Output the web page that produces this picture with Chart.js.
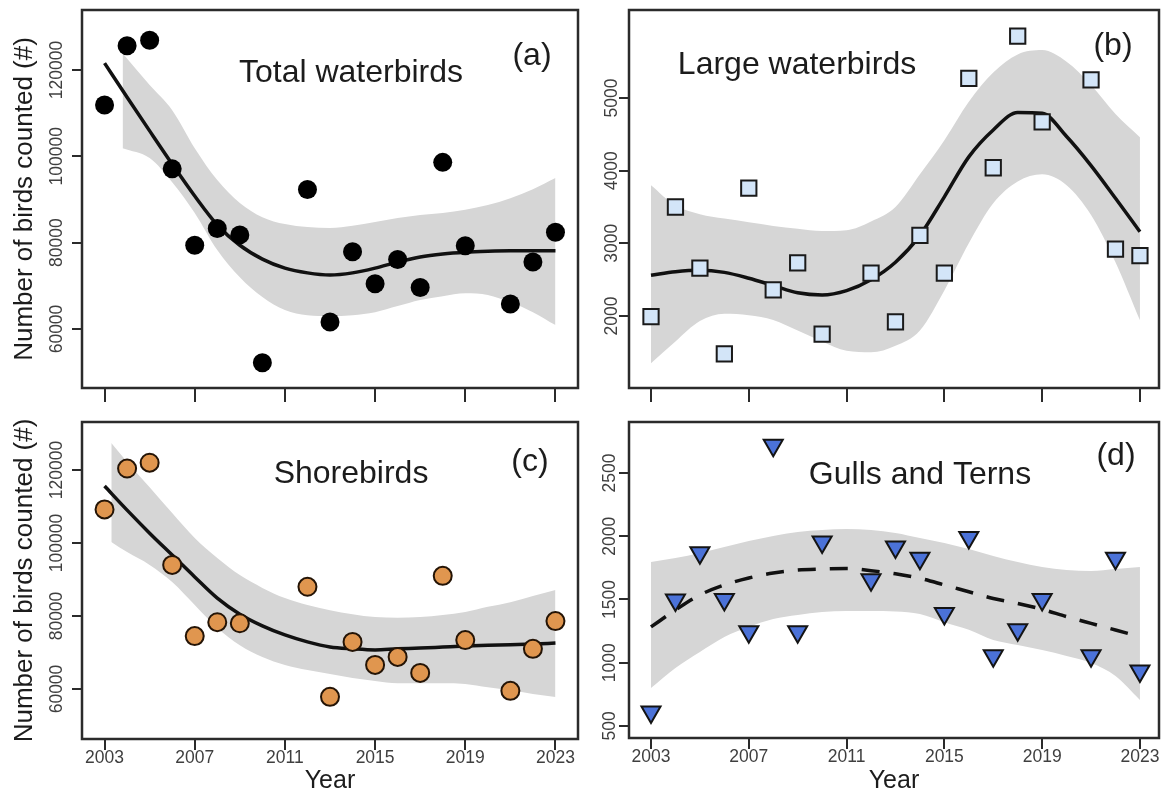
<!DOCTYPE html>
<html><head><meta charset="utf-8">
<script src="https://cdn.jsdelivr.net/npm/chart.js@4.4.1/dist/chart.umd.min.js"></script>
<style>
html,body{margin:0;padding:0;background:#fff;}
#wrap{position:relative;width:1162px;height:798px;overflow:hidden;background:#fff;}
canvas{position:absolute;left:0;top:0;}
</style></head><body>
<div id="wrap">
<canvas id="cA" width="1162" height="798"></canvas>
<canvas id="cB" width="1162" height="798"></canvas>
<canvas id="cC" width="1162" height="798"></canvas>
<canvas id="cD" width="1162" height="798"></canvas>
</div>
<script>
// ---------- data ----------
const yearsABD = [2003,2004,2005,2006,2007,2008,2009,2010,2012,2013,2014,2015,2016,2017,2018,2019,2021,2022,2023];
const yearsC   = [2003,2004,2005,2006,2007,2008,2009,2012,2013,2014,2015,2016,2017,2018,2019,2021,2022,2023];
const fitYears = [2003,2004,2005,2006,2007,2008,2009,2010,2011,2012,2013,2014,2015,2016,2017,2018,2019,2020,2021,2022,2023];
const bandYearsA = [2003.8,2005,2006,2007,2008,2009,2010,2011,2012,2013,2014,2015,2016,2017,2018,2019,2020,2021,2022,2023];
const bandYearsC = [2003.3,2004,2005,2006,2007,2008,2009,2010,2011,2012,2013,2014,2015,2016,2017,2018,2019,2020,2021,2022,2023];
const xTickYears = [2003,2007,2011,2015,2019,2023];

// (a) Total waterbirds
const totalCounts = [111900,125600,126900,97100,79400,83300,81800,52200,92300,61600,77900,70500,76100,69600,98600,79300,65800,75500,82400];
const totalFit    = [121600,113700,105900,98200,90800,84100,79400,76200,74100,73000,72500,73000,74100,75500,76700,77400,77800,78000,78100,78100,78100];
const totalUpper  = [123900,116500,110700,101900,94500,89200,85900,84300,83600,83400,83900,84800,85700,86400,86900,87600,88700,90300,92400,95000];
const totalLower  = [101900,99600,94000,86900,78300,72000,67400,64400,63200,63000,63200,63900,65300,66700,67600,68300,67900,66200,63900,60900];
const yTicksA = [60000,80000,100000,120000];

// (b) Large waterbirds
const largeCounts = [1990,3500,2660,1480,3760,2360,2730,1750,2590,1920,3110,2590,5270,4040,5850,4670,5250,2920,2830];
const largeFit    = [2560,2610,2630,2600,2520,2420,2320,2290,2350,2500,2740,3110,3640,4190,4560,4800,4790,4470,4070,3620,3160];
const largeUpper  = [3800,3520,3400,3340,3290,3240,3200,3170,3180,3300,3500,3950,4420,4950,5350,5600,5660,5500,5180,4780,4460];
const largeLower  = [1350,1650,1930,2030,2010,1945,1800,1650,1520,1500,1590,1800,2350,3000,3550,3850,3950,3800,3390,2740,1940];
const yTicksB = [2000,3000,4000,5000];

// (c) Shorebirds
const shoreCounts = [109200,120400,122000,94000,74500,78300,78000,88000,57850,72900,66600,68800,64400,91000,73400,59500,71000,78600];
const shoreFit    = [115600,109000,102700,96700,90700,84900,80500,77300,74800,72900,71500,71000,70700,71000,71200,71500,71800,72000,72100,72300,72600];
const shoreUpper  = [127400,122200,115300,108200,101400,95900,91200,87700,84900,83000,81600,80500,79700,79500,79700,80300,81100,82500,83800,85500,87100];
const shoreLower  = [100300,97500,94000,89300,83000,76700,72000,68800,66600,65200,64100,63000,62200,61600,61600,61600,61400,60500,59700,58600,57800];
const yTicksC = [60000,80000,100000,120000];

// (d) Gulls and Terns
const gullCounts = [610,1495,1870,1500,1245,2720,1245,1955,1655,1915,1825,1390,1990,1055,1260,1500,1055,1825,935];
const gullFit    = [1283,1417,1536,1615,1670,1709,1733,1741,1745,1728,1703,1667,1615,1561,1508,1469,1422,1364,1311,1259,1206];
const gullUpper  = [1796,1828,1868,1915,1962,2002,2034,2049,2057,2049,2026,1986,1947,1899,1844,1796,1757,1733,1725,1741,1757];
const gullLower  = [800,958,1085,1204,1283,1346,1377,1401,1409,1409,1405,1385,1320,1260,1180,1140,1100,1053,998,895,706];
const yTicksD = [500,1000,1500,2000,2500];

// ---------- helpers ----------
const FONT = "'Liberation Sans', Arial, Helvetica, sans-serif";
const zip = (xs, ys) => xs.map((x, i) => ({x: x, y: ys[i]}));

const framePlugin = {
  id: 'frameAndText',
  afterDraw(chart) {
    const ctx = chart.ctx, a = chart.chartArea;
    ctx.save();
    ctx.strokeStyle = '#2b2b2b';
    ctx.lineWidth = 2.5;
    ctx.strokeRect(a.left, a.top, a.right - a.left, a.bottom - a.top);
    const items = chart.options.plugins.frameAndText.labels || [];
    ctx.fillStyle = '#1c1c1c';
    ctx.textAlign = 'center';
    ctx.textBaseline = 'alphabetic';
    items.forEach(it => {
      ctx.font = it.size + 'px ' + FONT;
      ctx.fillText(it.text, it.x, it.y);
    });
    ctx.restore();
  }
};

function makePanel(id, p) {
  const [l, t, r, b] = p.area;
  const datasets = [
    { data: zip(p.bandYears, p.lower), borderColor: 'rgba(0,0,0,0)', borderWidth: 0, pointRadius: 0,
      fill: false, cubicInterpolationMode: 'monotone', order: 3 },
    { data: zip(p.bandYears, p.upper), borderColor: 'rgba(0,0,0,0)', borderWidth: 0, pointRadius: 0,
      fill: '-1', backgroundColor: '#d6d6d6', cubicInterpolationMode: 'monotone', order: 2 },
    { data: zip(fitYears, p.fit), borderColor: '#111', borderWidth: 3.5, pointRadius: 0, fill: false,
      borderDash: p.dash || [], cubicInterpolationMode: 'monotone', order: 1 },
    { data: zip(p.years, p.counts), showLine: false, pointStyle: p.pt.style, pointRadius: p.pt.radius,
      pointRotation: p.pt.rotation || 0, pointBackgroundColor: p.pt.bg, pointBorderColor: p.pt.border,
      pointBorderWidth: p.pt.bw, order: 0 }
  ];
  return new Chart(document.getElementById(id), {
    type: 'line',
    data: { datasets },
    plugins: [framePlugin],
    options: {
      responsive: false, animation: false, devicePixelRatio: 1, events: [],
      layout: { autoPadding: false, padding: { left: l - p.yW, top: t, right: 1162 - r, bottom: 798 - b - p.xH } },
      plugins: { legend: { display: false }, tooltip: { enabled: false },
        frameAndText: { labels: p.labels } },
      scales: {
        x: {
          type: 'linear', min: p.xMin, max: p.xMax,
          afterBuildTicks: s => { s.ticks = xTickYears.map(v => ({ value: v })); },
          afterFit: s => { s.height = p.xH; },
          border: { display: false },
          grid: { drawOnChartArea: false, drawTicks: true, tickLength: p.xTickLen, color: '#2b2b2b', lineWidth: 2 },
          ticks: { display: p.showX, padding: -2.5, maxRotation: 0, minRotation: 0,
            font: { family: FONT, size: 17.5 }, color: '#3f3f3f', callback: v => String(v) },
          title: { display: !!p.xTitle, text: p.xTitle || '', font: { family: FONT, size: 25 }, color: '#1c1c1c',
            padding: { top: 0, bottom: 2 } }
        },
        y: {
          type: 'linear', min: p.yMin, max: p.yMax,
          afterBuildTicks: s => { s.ticks = p.yTicks.map(v => ({ value: v })); },
          afterFit: s => { s.width = p.yW; },
          border: { display: false },
          grid: { drawOnChartArea: false, drawTicks: true, tickLength: 10, color: '#2b2b2b', lineWidth: 2 },
          ticks: { minRotation: 90, maxRotation: 90, crossAlign: 'center', padding: p.yPad,
            font: { family: FONT, size: 17.5 }, color: '#3f3f3f', callback: v => String(v) },
          title: { display: !!p.yTitle, text: p.yTitle || '', font: { family: FONT, size: 26 }, color: '#1c1c1c',
            padding: { top: 9, bottom: 0 } }
        }
      }
    }
  });
}

const yTitleText = 'Number of birds counted (#)';

makePanel('cA', {
  area: [82, 10, 578, 388], yW: 82, xH: 22, xMin: 2002, xMax: 2024, yMin: 46330, yMax: 133900,
  yTicks: yTicksA, yPad: -14.2, showX: false, xTickLen: 14, yTitle: yTitleText,
  years: yearsABD, counts: totalCounts, fit: totalFit, bandYears: bandYearsA, upper: totalUpper, lower: totalLower,
  pt: { style: 'circle', radius: 9.5, bg: '#000', border: '#000', bw: 0 },
  labels: [{ text: 'Total waterbirds', x: 351, y: 82, size: 32 }, { text: '(a)', x: 532, y: 65, size: 32 }]
});
makePanel('cB', {
  area: [629, 10, 1159, 388], yW: 40, xH: 22, xMin: 2002.1, xMax: 2023.78, yMin: 1009, yMax: 6211,
  yTicks: yTicksB, yPad: -12.5, showX: false, xTickLen: 14,
  years: yearsABD, counts: largeCounts, fit: largeFit, bandYears: fitYears, upper: largeUpper, lower: largeLower,
  pt: { style: 'rect', radius: 10.8, bg: '#d3e5f8', border: '#1a1a1a', bw: 2 },
  labels: [{ text: 'Large waterbirds', x: 797, y: 74, size: 32 }, { text: '(b)', x: 1113, y: 55, size: 32 }]
});
makePanel('cC', {
  area: [82, 422, 578, 739], yW: 82, xH: 59, xMin: 2002, xMax: 2024, yMin: 46300, yMax: 133150,
  yTicks: yTicksC, yPad: -14.2, showX: true, xTickLen: 11, yTitle: yTitleText, xTitle: 'Year',
  years: yearsC, counts: shoreCounts, fit: shoreFit, bandYears: bandYearsC, upper: shoreUpper, lower: shoreLower,
  pt: { style: 'circle', radius: 9, bg: '#e0964f', border: '#241406', bw: 2 },
  labels: [{ text: 'Shorebirds', x: 351, y: 483, size: 32 }, { text: '(c)', x: 530, y: 471, size: 32 }]
});
makePanel('cD', {
  area: [629, 422, 1159, 738], yW: 40, xH: 60, xMin: 2002.1, xMax: 2023.78, yMin: 405, yMax: 2903,
  yTicks: yTicksD, yPad: -10.5, showX: true, xTickLen: 11, xTitle: 'Year',
  years: yearsABD, counts: gullCounts, fit: gullFit, dash: [18, 14], bandYears: fitYears, upper: gullUpper, lower: gullLower,
  pt: { style: 'triangle', radius: 11, rotation: 180, bg: '#4b72d8', border: '#141414', bw: 2 },
  labels: [{ text: 'Gulls and Terns', x: 920, y: 484, size: 32 }, { text: '(d)', x: 1116, y: 465, size: 32 }]
});
</script>
</body></html>
